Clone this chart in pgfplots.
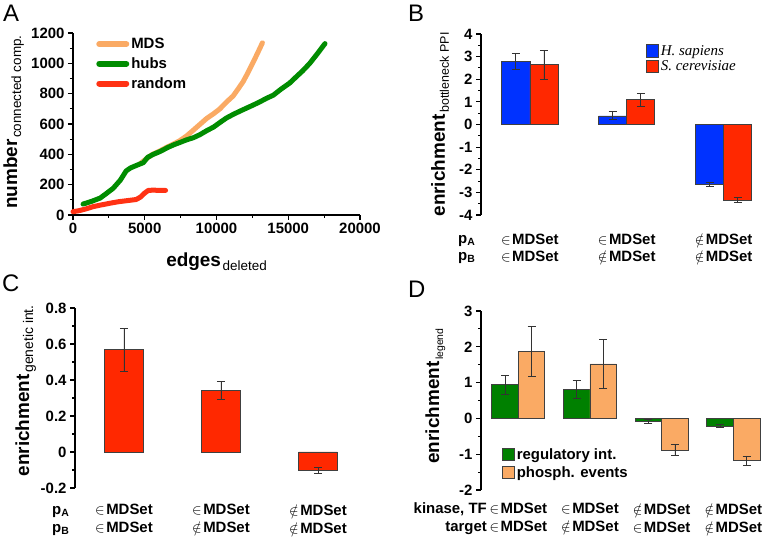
\documentclass[border=0pt]{standalone}
\usepackage{fontspec}
\setmainfont{Liberation Sans}
\newfontfamily\serif{Liberation Serif}
\usepackage{pgfplots}
\usepackage{pgfplotstable}
\pgfplotsset{compat=1.18}

\definecolor{mdsorange}{RGB}{250,170,100}
\definecolor{hubgreen}{RGB}{0,140,0}
\definecolor{rndred}{RGB}{255,50,20}
\definecolor{barblue}{RGB}{0,50,255}
\definecolor{barred}{RGB}{255,40,0}
\definecolor{bargreen}{RGB}{0,128,0}
\definecolor{barorange}{RGB}{250,170,100}

\newcommand{\fs}[1]{\fontsize{#1}{#1}\selectfont}
\newcommand{\biglab}[3]{{\fs{19}\bfseries #1}\,\raisebox{-4bp}{\fs{#3}\mdseries #2}}
\newcommand{\inset}{$\in$\kern1.5bp MDSet}
\newcommand{\notset}{$\notin$\kern1.5bp MDSet}

% panel B: bottleneck PPI enrichment
\pgfplotstableread{
x y ep em
0 2.78 0.36 0.35
1 0.38 0.18 0.14
2 -2.65 0.10 0.10
}\Bhs
\pgfplotstableread{
x y ep em
0 2.66 0.62 0.66
1 1.09 0.28 0.31
2 -3.34 0.12 0.12
}\Bsc
% panel C: genetic interactions
\pgfplotstableread{
x y ep em
0 0.570 0.117 0.120
1 0.344 0.050 0.050
2 -0.102 0.019 0.018
}\Cgen
% panel D: regulatory / phosphorylation
\pgfplotstableread{
x y ep em
0 0.95 0.26 0.29
1 0.81 0.24 0.25
2 -0.09 0.06 0.05
3 -0.21 0.04 0.03
}\Dreg
\pgfplotstableread{
x y ep em
0 1.87 0.71 0.70
1 1.52 0.69 0.68
2 -0.89 0.16 0.14
3 -1.18 0.13 0.13
}\Dpho

\pgfplotsset{
  panel/.style={
    scale only axis,
    axis lines*=left,
    axis line style={line width=1.6bp, black},
    tick align=outside,
    major tick length=5bp,
    minor tick length=3bp,
    tick style={black, line width=1.1bp},
    ticklabel style={font=\fs{15}\bfseries},
    /pgf/number format/assume math mode=true,
    /pgf/number format/1000 sep={},
    scaled ticks=false,
    clip=false,
  },
  barpanel/.style={
    panel,
    x axis line style={draw=none},
    xtick style={draw=none},
    legend cell align=left,
    legend image code/.code={\draw[##1, draw=black!75, line width=0.6bp] (0bp,-6bp) rectangle (12bp,6.5bp);},
  },
  bars/.style={ybar, bar shift=0, draw=black!75, line width=0.7bp, fill=#1,
    error bars/y dir=both, error bars/y explicit,
    error bars/error bar style={line width=0.8bp, black!80},
    error bars/error mark options={rotate=90, mark size=4bp, line width=0.8bp, black!80}},
}

\begin{document}
\begin{tikzpicture}
\useasboundingbox (0,0) rectangle (766bp,537bp);

% ---------- A ----------
\begin{axis}[panel,
  at={(73bp,322bp)}, anchor=south west, width=287bp, height=182bp,
  xmin=0, xmax=20000, ymin=0, ymax=1200,
  xtick={0,5000,...,20000}, minor x tick num=1,
  ytick={0,200,...,1200}, minor y tick num=1,
  xlabel={\biglab{edges}{deleted}{13.5}},
  xlabel style={at={(axis description cs:0.5,-0.285)}, anchor=base},
  ylabel={\biglab{number}{connected comp.}{13.5}},
  ylabel style={at={(axis description cs:-0.195,0.51)}, anchor=base},
  legend style={draw=none, fill=none, at={(axis description cs:0.07,0.995)}, anchor=north west,
    font=\fs{15}\bfseries, row sep=3.5bp, nodes={inner sep=2bp}},
  legend cell align=left,
  legend image code/.code={\draw[#1, line width=6bp] (0bp,0bp) -- (27bp,0bp);},
]
\addplot[mdsorange, line width=5bp, line cap=round, line join=round] coordinates {
(4700,340)(5100,370)(5500,398)(6000,420)(6500,445)(7000,468)(7440,490)(7900,520)
(8370,558)(8850,598)(9320,637)(9800,668)(10240,700)(10700,745)(11160,785)(11500,830)
(11860,880)(12200,940)(12560,1008)(12850,1065)(13200,1135)};
\addlegendentry{MDS}
\addplot[hubgreen, line width=5bp, line cap=round, line join=round] coordinates {
(700,72)(1300,90)(1900,112)(2300,140)(2800,176)(3300,230)(3700,290)(4000,310)
(4500,330)(4900,345)(5200,380)(5600,400)(6100,420)(6600,445)(7000,462)(7500,480)
(7900,495)(8400,510)(8850,530)(9300,555)(9800,580)(10240,610)(10700,640)(11200,665)
(11640,685)(12100,705)(12560,725)(13000,745)(13500,770)(13960,790)(14500,830)
(15100,870)(15600,915)(16000,950)(16500,1000)(17000,1060)(17560,1130)};
\addlegendentry{hubs}
\addplot[rndred, line width=5bp, line cap=round, line join=round] coordinates {
(0,22)(400,28)(900,40)(1400,55)(1900,65)(2600,78)(3200,88)(3800,95)(4400,102)
(4700,118)(5000,145)(5250,162)(5600,164)(6000,162)(6450,162)};
\addlegendentry{random}
\end{axis}

% ---------- B ----------
\begin{axis}[barpanel,
  at={(481bp,322bp)}, anchor=south west, width=281.3bp, height=181bp,
  xmin=-0.505, xmax=2.4, ymin=-4, ymax=4,
  ytick={-4,...,4}, minor y tick num=1,
  xtick={0,1,2},
  xticklabels={{\inset\\\inset},{\inset\\\notset},{\notset\\\notset}},
  xticklabel style={align=center, font=\fontsize{15}{17}\selectfont\bfseries, yshift=-10.5bp},
  ylabel={\biglab{enrichment}{bottleneck PPI}{12.5}},
  ylabel style={at={(axis description cs:-0.128,0.5)}, anchor=base},
  bar width=0.29,
  legend style={draw=none, fill=none, at={(axis description cs:0.576,0.96)}, anchor=north west,
    font=\fs{15}\serif\itshape, row sep=0bp, nodes={inner sep=2bp}},
]
\addplot[bars=barblue] table[x expr=\thisrow{x}-0.145, y=y, y error plus=ep, y error minus=em] {\Bhs};
\addlegendentry{H. sapiens}
\addplot[bars=barred] table[x expr=\thisrow{x}+0.145, y=y, y error plus=ep, y error minus=em] {\Bsc};
\addlegendentry{S. cerevisiae}
\end{axis}

% ---------- C ----------
\begin{axis}[barpanel,
  at={(75bp,49bp)}, anchor=south west, width=281.8bp, height=180bp,
  xmin=-0.505, xmax=2.4, ymin=-0.2, ymax=0.8,
  ytick={-0.2,0,0.2,0.4,0.6,0.8}, minor y tick num=1,
  xtick={0,1,2},
  xticklabels={{\inset\\\inset},{\inset\\\notset},{\notset\\\notset}},
  xticklabel style={align=center, font=\fontsize{15}{18}\selectfont\bfseries, yshift=-8bp},
  ylabel={\biglab{enrichment}{genetic int.}{14}},
  ylabel style={at={(axis description cs:-0.163,0.54)}, anchor=base},
  bar width=0.40,
]
\addplot[bars=barred] table[x=x, y=y, y error plus=ep, y error minus=em] {\Cgen};
\end{axis}

% ---------- D ----------
\begin{axis}[barpanel,
  at={(481bp,47bp)}, anchor=south west, width=281bp, height=179bp,
  xmin=-0.52, xmax=3.4, ymin=-2, ymax=3,
  ytick={-2,...,3}, minor y tick num=1,
  xtick={0,1,2,3},
  xticklabels={{\inset\\\inset},{\inset\\\notset},{\notset\\\inset},{\notset\\\notset}},
  xticklabel style={align=center, font=\fontsize{15}{18}\selectfont\bfseries, yshift=-5bp},
  ylabel={\biglab{enrichment}{legend}{10.5}},
  ylabel style={at={(axis description cs:-0.149,0.525)}, anchor=base},
  bar width=0.37,
  legend style={draw=none, fill=none, at={(axis description cs:0.064,0.255)}, anchor=north west,
    font=\fs{15}\bfseries, row sep=1.5bp, nodes={inner sep=2bp}},
]
\addplot[bars=bargreen] table[x expr=\thisrow{x}-0.185, y=y, y error plus=ep, y error minus=em] {\Dreg};
\addlegendentry{regulatory int.}
\addplot[bars=barorange] table[x expr=\thisrow{x}+0.185, y=y, y error plus=ep, y error minus=em] {\Dpho};
\addlegendentry{phosph. events}
\end{axis}

% row captions and panel letters
\begin{scope}[font=\fs{15}\bfseries, inner sep=0pt]
\node[anchor=base west] at (458bp,{537bp-243.5bp}) {p\textsubscript{A}};
\node[anchor=base west] at (458bp,{537bp-260.5bp}) {p\textsubscript{B}};
\node[anchor=base west] at (52bp,{537bp-514bp}) {p\textsubscript{A}};
\node[anchor=base west] at (52bp,{537bp-532bp}) {p\textsubscript{B}};
\node[anchor=base east] at (487bp,{537bp-513bp}) {kinase, TF};
\node[anchor=base east] at (487bp,{537bp-531bp}) {target};
\end{scope}
\begin{scope}[font=\fs{24}, inner sep=0pt]
\node[anchor=north west] at (3bp,{537bp-5bp}) {A};
\node[anchor=north west] at (408bp,{537bp-5bp}) {B};
\node[anchor=north west] at (2bp,{537bp-275bp}) {C};
\node[anchor=north west] at (408bp,{537bp-281bp}) {D};
\end{scope}
\end{tikzpicture}
\end{document}
